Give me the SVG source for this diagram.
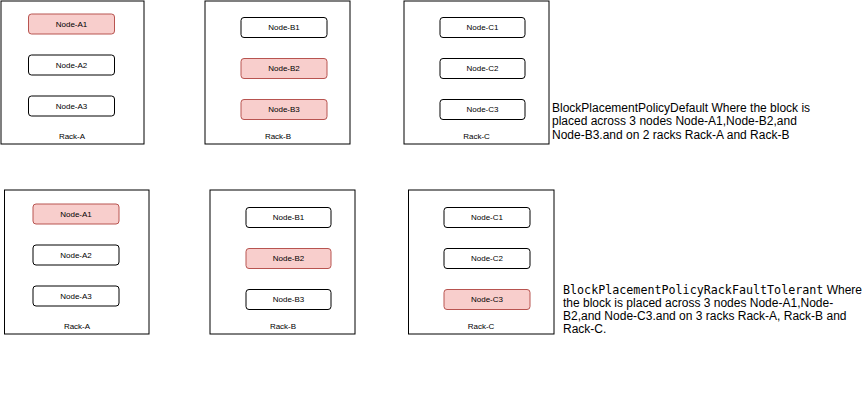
<svg xmlns="http://www.w3.org/2000/svg" width="868" height="411" viewBox="0 0 868 411">
  <style>
    .rack { fill: #ffffff; stroke: #000000; stroke-width: 1; }
    .node { fill: #ffffff; stroke: #000000; stroke-width: 1; }
    .hit { fill: #f8cecc; stroke: #b85450; stroke-width: 1; }
    .lbl { font-family: "Liberation Sans", Arial, Helvetica, sans-serif; font-size: 8px; fill: #000000; text-anchor: middle; dominant-baseline: central; }
    .desc { font-family: "Liberation Sans", Arial, Helvetica, sans-serif; font-size: 12px; fill: #000000; }
    .mono { font-family: "DejaVu Sans Mono", "Liberation Mono", monospace; font-size: 11.7px; }
  </style>
  <rect x="0" y="0" width="868" height="411" fill="#ffffff"/>

  <!-- Top row: default placement policy -->
  <g id="rack-a-top">
    <rect class="rack" x="1" y="1" width="143" height="143"/>
    <text class="lbl" x="72" y="136.5">Rack-A</text>
  </g>
  <g id="node-a1-top"><rect class="hit" x="28.5" y="14" width="86" height="20" rx="3"/><text class="lbl" x="71.5" y="24">Node-A1</text></g>
  <g id="node-a2-top"><rect class="node" x="28.5" y="55" width="86" height="20" rx="3"/><text class="lbl" x="71.5" y="65">Node-A2</text></g>
  <g id="node-a3-top"><rect class="node" x="28.5" y="96" width="86" height="20" rx="3"/><text class="lbl" x="71.5" y="106">Node-A3</text></g>

  <g id="rack-b-top">
    <rect class="rack" x="205" y="1" width="145" height="143"/>
    <text class="lbl" x="278" y="136.5">Rack-B</text>
  </g>
  <g id="node-b1-top"><rect class="node" x="241" y="17.5" width="86" height="20" rx="3"/><text class="lbl" x="284" y="27.5">Node-B1</text></g>
  <g id="node-b2-top"><rect class="hit" x="241" y="58.5" width="86" height="20" rx="3"/><text class="lbl" x="284" y="68.5">Node-B2</text></g>
  <g id="node-b3-top"><rect class="hit" x="241" y="99.5" width="86" height="20" rx="3"/><text class="lbl" x="284" y="109.5">Node-B3</text></g>

  <g id="rack-c-top">
    <rect class="rack" x="404" y="1" width="145" height="143"/>
    <text class="lbl" x="476.5" y="136.5">Rack-C</text>
  </g>
  <g id="node-c1-top"><rect class="node" x="440" y="17.5" width="85" height="20" rx="3"/><text class="lbl" x="482.5" y="27.5">Node-C1</text></g>
  <g id="node-c2-top"><rect class="node" x="440" y="58.5" width="85" height="20" rx="3"/><text class="lbl" x="482.5" y="68.5">Node-C2</text></g>
  <g id="node-c3-top"><rect class="node" x="440" y="99.5" width="85" height="20" rx="3"/><text class="lbl" x="482.5" y="109.5">Node-C3</text></g>

  <g id="note-default">
    <text class="desc" x="552" y="111.5">BlockPlacementPolicyDefault Where the block is</text>
    <text class="desc" x="552" y="125">placed across 3 nodes Node-A1,Node-B2,and</text>
    <text class="desc" x="552" y="138.5">Node-B3.and on 2 racks Rack-A and Rack-B</text>
  </g>

  <!-- Bottom row: rack fault tolerant policy -->
  <g id="rack-a-bottom">
    <rect class="rack" x="4.5" y="190" width="144.5" height="144"/>
    <text class="lbl" x="77" y="326.5">Rack-A</text>
  </g>
  <g id="node-a1-bottom"><rect class="hit" x="33" y="204" width="86" height="20" rx="3"/><text class="lbl" x="76" y="214">Node-A1</text></g>
  <g id="node-a2-bottom"><rect class="node" x="33" y="245" width="86" height="20" rx="3"/><text class="lbl" x="76" y="255">Node-A2</text></g>
  <g id="node-a3-bottom"><rect class="node" x="33" y="286" width="86" height="20" rx="3"/><text class="lbl" x="76" y="296">Node-A3</text></g>

  <g id="rack-b-bottom">
    <rect class="rack" x="210" y="190" width="145" height="144"/>
    <text class="lbl" x="283" y="326.5">Rack-B</text>
  </g>
  <g id="node-b1-bottom"><rect class="node" x="246" y="207.5" width="85" height="20" rx="3"/><text class="lbl" x="288.5" y="217.5">Node-B1</text></g>
  <g id="node-b2-bottom"><rect class="hit" x="246" y="248.5" width="85" height="20" rx="3"/><text class="lbl" x="288.5" y="258.5">Node-B2</text></g>
  <g id="node-b3-bottom"><rect class="node" x="246" y="289.5" width="85" height="20" rx="3"/><text class="lbl" x="288.5" y="299.5">Node-B3</text></g>

  <g id="rack-c-bottom">
    <rect class="rack" x="408.5" y="190" width="145.5" height="144"/>
    <text class="lbl" x="481" y="326.5">Rack-C</text>
  </g>
  <g id="node-c1-bottom"><rect class="node" x="444" y="207.5" width="86" height="20" rx="3"/><text class="lbl" x="487" y="217.5">Node-C1</text></g>
  <g id="node-c2-bottom"><rect class="node" x="444" y="248.5" width="86" height="20" rx="3"/><text class="lbl" x="487" y="258.5">Node-C2</text></g>
  <g id="node-c3-bottom"><rect class="hit" x="444" y="289.5" width="86" height="20" rx="3"/><text class="lbl" x="487" y="299.5">Node-C3</text></g>

  <g id="note-rack-fault-tolerant">
    <text class="desc" x="563" y="293.5"><tspan class="mono">BlockPlacementPolicyRackFaultTolerant</tspan> Where</text>
    <text class="desc" x="563" y="306.5">the block is placed across 3 nodes Node-A1,Node-</text>
    <text class="desc" x="563" y="319.5">B2,and Node-C3.and on 3 racks Rack-A, Rack-B and</text>
    <text class="desc" x="563" y="332.5">Rack-C.</text>
  </g>
</svg>
